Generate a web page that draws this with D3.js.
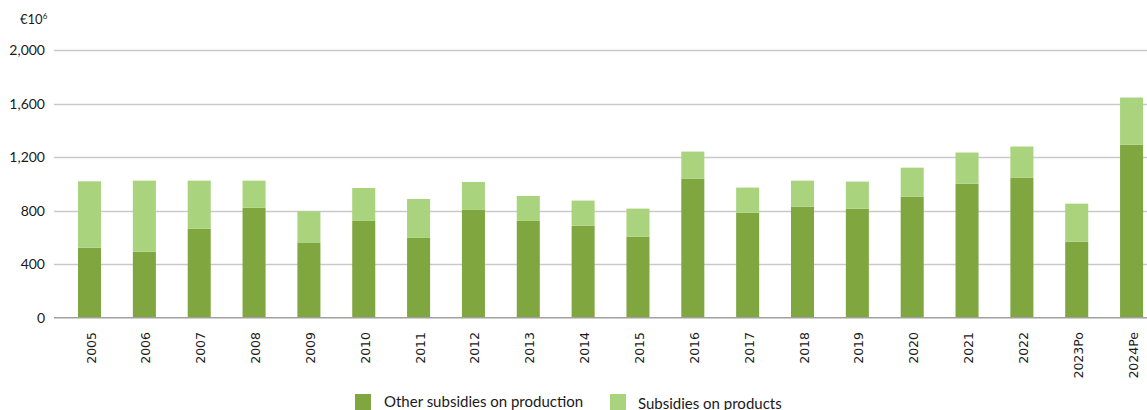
<!DOCTYPE html>
<html>
<head>
<meta charset="utf-8">
<script src="https://cdn.jsdelivr.net/npm/d3@7"></script>
<style>
  html, body { margin: 0; padding: 0; background: #fff; }
  svg { display: block; }
</style>
</head>
<body>
<svg id="chart" width="1147" height="410"></svg>
<script>
// Subsidies, € million
const years = ["2005","2006","2007","2008","2009","2010","2011","2012","2013","2014",
               "2015","2016","2017","2018","2019","2020","2021","2022","2023Po","2024Pe"];
const otherSubsidiesOnProduction = [523, 493, 665, 822, 558, 723, 596, 805, 723, 688,
                                    606, 1039, 785, 830, 815, 905, 1002, 1047, 568, 1293];
const subsidiesOnProducts = [496, 531, 359, 202, 237, 246, 291, 209, 187, 187,
                             209, 202, 187, 194, 202, 216, 232, 232, 284, 352];
const yTicks = [0, 400, 800, 1200, 1600, 2000];
const seriesNames = ["Other subsidies on production", "Subsidies on products"];
const seriesColors = ["#7fa63f", "#a9d37d"];

const svg = d3.select("#chart");
const x0 = 62.1, x1 = 1159, yBase = 317.7, yTop = 50;

const x = d3.scaleBand().domain(years).range([x0, x1]).paddingInner(0.58).paddingOuter(0.29);
const y = d3.scaleLinear().domain([0, 2000]).range([yBase, yTop]);

// gridlines
svg.append("g").selectAll("line").data(yTicks.filter(d => d > 0)).join("line")
  .attr("x1", 54).attr("x2", 1147)
  .attr("y1", d => Math.round(y(d)) + 0.5).attr("y2", d => Math.round(y(d)) + 0.5)
  .attr("stroke", "#c9c9c9").attr("stroke-width", 1.5);

// y tick labels
svg.append("g").selectAll("text").data(yTicks).join("text")
  .attr("x", 45).attr("y", d => y(d) + 5)
  .attr("text-anchor", "end")
  .attr("font-family", "Lato, 'Open Sans', sans-serif").attr("font-size", 14)
  .attr("fill", "#1a1a1a")
  .text(d => d3.format(",")(d));

// unit label
const unit = svg.append("text").attr("x", 20).attr("y", 24)
  .attr("font-family", "Lato, 'Open Sans', sans-serif").attr("font-size", 13)
  .attr("fill", "#1a1a1a");
unit.append("tspan").text("€10");
unit.append("tspan").attr("font-size", 8).attr("dy", -5).text("6");

// stacked bars
const rows = years.map((yr, i) => ({ year: yr, other: otherSubsidiesOnProduction[i], products: subsidiesOnProducts[i] }));
const stack = d3.stack().keys(["other", "products"])(rows);
svg.append("g").selectAll("g").data(stack).join("g")
  .attr("fill", (d, i) => seriesColors[i])
  .selectAll("rect").data(d => d).join("rect")
  .attr("x", d => x(d.data.year))
  .attr("width", x.bandwidth())
  .attr("y", d => y(d[1]))
  .attr("height", d => y(d[0]) - y(d[1]));

// baseline
svg.append("line").attr("x1", 54).attr("x2", 1147)
  .attr("y1", yBase).attr("y2", yBase)
  .attr("stroke", "#a0a0a0").attr("stroke-width", 1.5);

// x labels, rotated
svg.append("g").selectAll("text").data(years).join("text")
  .attr("transform", d => `translate(${x(d) + x.bandwidth() / 2 + 6},332) rotate(-90)`)
  .attr("text-anchor", "end")
  .attr("font-family", "'DejaVu Sans', sans-serif").attr("font-size", 12.5)
  .attr("fill", "#1a1a1a")
  .text(d => d);

// legend
const legendItems = [
  { name: seriesNames[0], color: seriesColors[0], sx: 355, tx: 384, ty: 407 },
  { name: seriesNames[1], color: seriesColors[1], sx: 610, tx: 638, ty: 408.5 }
];
const lg = svg.append("g").selectAll("g").data(legendItems).join("g");
lg.append("rect").attr("x", d => d.sx).attr("y", 394).attr("width", 16).attr("height", 16)
  .attr("fill", d => d.color);
lg.append("text").attr("x", d => d.tx).attr("y", d => d.ty)
  .attr("font-family", "Lato, 'Open Sans', sans-serif").attr("font-size", 15)
  .attr("fill", "#1a1a1a")
  .text(d => d.name);
</script>
</body>
</html>
